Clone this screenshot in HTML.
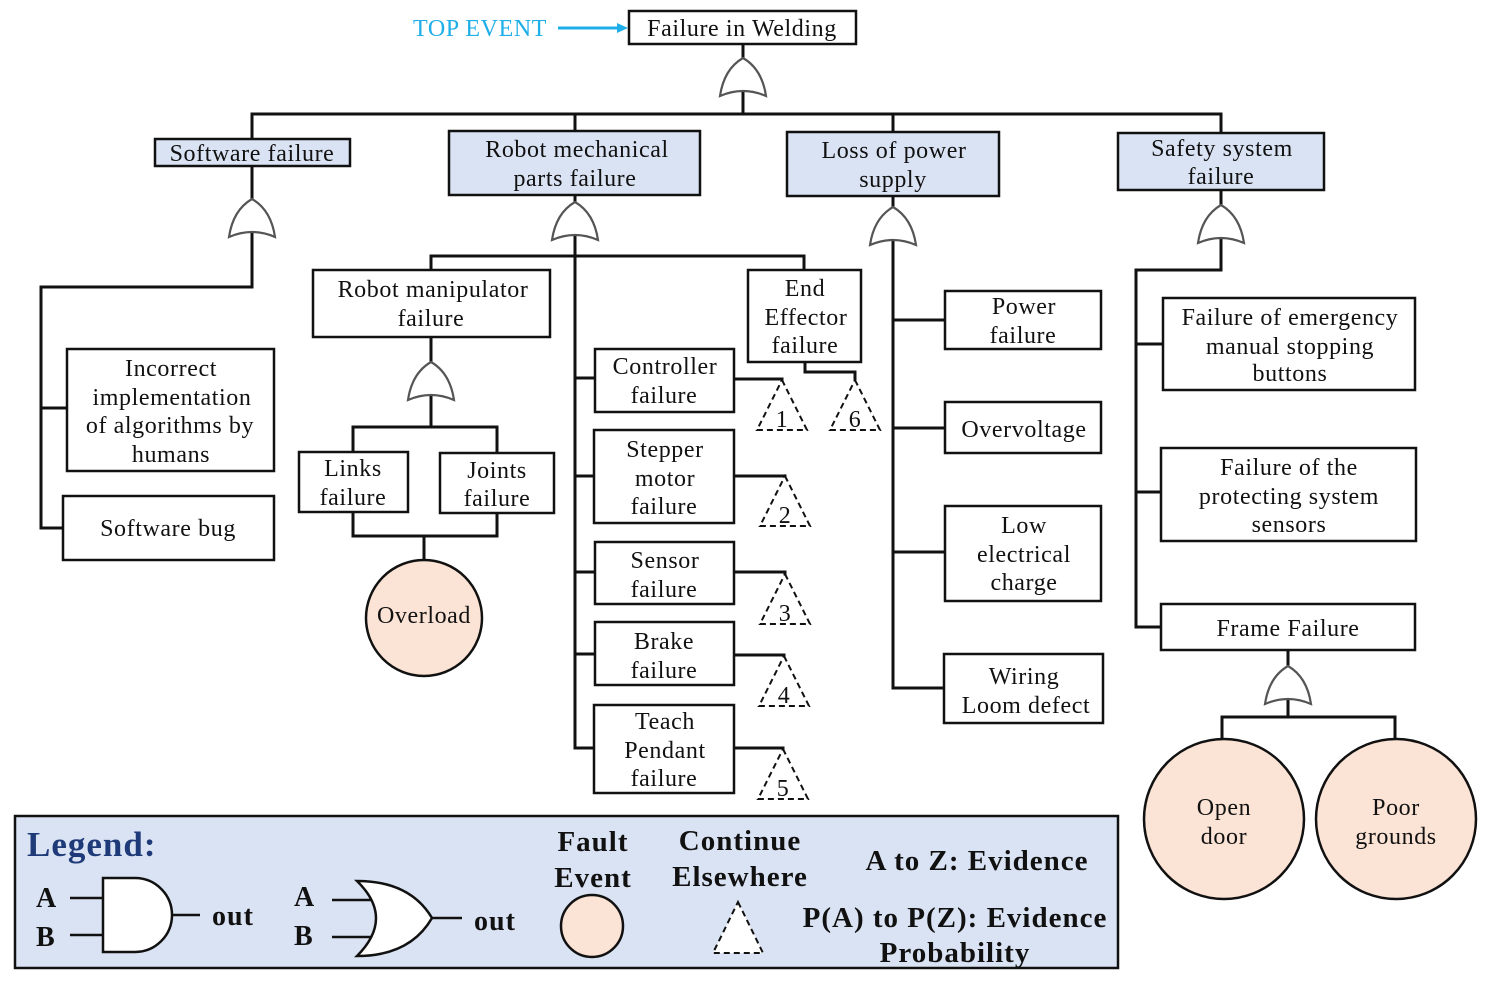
<!DOCTYPE html>
<html><head><meta charset="utf-8"><style>
html,body{margin:0;padding:0;background:#fff}
svg{display:block}
text{font-family:"Liberation Serif",serif;font-size:24px;fill:#111;letter-spacing:0.6px}
.b{font-weight:bold;letter-spacing:1px}
</style></head><body>
<svg width="1490" height="984" viewBox="0 0 1490 984" xmlns="http://www.w3.org/2000/svg">
<defs>
<g id="or"><path d="M-23,19 Q0,9 23,19 Q19,-8 0,-19 Q-19,-8 -23,19 Z" fill="#fff" stroke="#555" stroke-width="2.2"/></g>
<g id="tri"><path d="M0,0 L25,50 L-25,50 Z" fill="#fff" stroke="#111" stroke-width="2" stroke-dasharray="6,4"/></g>
</defs>
<g stroke="#111" stroke-width="3" fill="none">
<line x1="743" y1="44" x2="743" y2="114"/>
<polyline points="252,139 252,114 1221,114 1221,133"/>
<line x1="575" y1="114" x2="575" y2="131"/>
<line x1="893" y1="114" x2="893" y2="132"/>
<polyline points="252,166 252,287 41,287 41,528 63,528"/>
<line x1="41" y1="408" x2="67" y2="408"/>
<polyline points="575,195 575,748 594,748"/>
<polyline points="431,270 431,256 804,256 804,270"/>
<line x1="575" y1="378" x2="595" y2="378"/>
<line x1="575" y1="476" x2="594" y2="476"/>
<line x1="575" y1="572" x2="595" y2="572"/>
<line x1="575" y1="654" x2="595" y2="654"/>
<line x1="431" y1="337" x2="431" y2="427"/>
<polyline points="353,452 353,427 497,427 497,453"/>
<polyline points="353,512 353,536 497,536 497,513"/>
<line x1="424" y1="536" x2="424" y2="560"/>
<polyline points="734,379 782,379 782,382"/>
<polyline points="734,476 785,476 785,478"/>
<polyline points="734,572 785,572 785,575"/>
<polyline points="734,655 784,655 784,657"/>
<polyline points="734,748 783,748 783,750"/>
<polyline points="805,362 805,372 855,372 855,380"/>
<polyline points="893,196 893,688 944,688"/>
<line x1="893" y1="320" x2="945" y2="320"/>
<line x1="893" y1="428" x2="945" y2="428"/>
<line x1="893" y1="552" x2="945" y2="552"/>
<polyline points="1221,190 1221,270 1136,270 1136,627 1161,627"/>
<line x1="1136" y1="344" x2="1163" y2="344"/>
<line x1="1136" y1="492" x2="1161" y2="492"/>
<polyline points="1288,650 1288,717"/>
<polyline points="1222,740 1222,717 1395,717 1395,740"/>
</g>
<use href="#or" x="743" y="77"/>
<use href="#or" x="252" y="218"/>
<use href="#or" x="575" y="221"/>
<use href="#or" x="893" y="226"/>
<use href="#or" x="1221" y="224"/>
<use href="#or" x="431" y="381"/>
<use href="#or" x="1288" y="685"/>
<use href="#tri" x="782" y="380"/><text x="782" y="427" text-anchor="middle" font-size="20">1</text>
<use href="#tri" x="785" y="476"/><text x="785" y="523" text-anchor="middle" font-size="20">2</text>
<use href="#tri" x="785" y="574"/><text x="785" y="621" text-anchor="middle" font-size="20">3</text>
<use href="#tri" x="784" y="656"/><text x="784" y="703" text-anchor="middle" font-size="20">4</text>
<use href="#tri" x="783" y="749"/><text x="783" y="796" text-anchor="middle" font-size="20">5</text>
<use href="#tri" x="855" y="380"/><text x="855" y="427" text-anchor="middle" font-size="20">6</text>
<text x="413" y="36" style="fill:#1eaee8">TOP EVENT</text>
<line x1="558" y1="28" x2="620" y2="28" stroke="#1eaee8" stroke-width="3"/>
<path d="M628,28 L617,23 L617,33 Z" fill="#1eaee8"/>
<g stroke="#111" stroke-width="2.5">
<rect x="629" y="11" width="227" height="33" fill="#fff"/>
<rect x="155" y="139" width="195" height="27" fill="#dae3f3"/>
<rect x="449" y="131" width="251" height="64" fill="#dae3f3"/>
<rect x="787" y="132" width="212" height="64" fill="#dae3f3"/>
<rect x="1118" y="133" width="206" height="57" fill="#dae3f3"/>
<rect x="67" y="349" width="207" height="122" fill="#fff"/>
<rect x="63" y="496" width="211" height="64" fill="#fff"/>
<rect x="313" y="270" width="237" height="67" fill="#fff"/>
<rect x="748" y="270" width="113" height="92" fill="#fff"/>
<rect x="299" y="452" width="109" height="60" fill="#fff"/>
<rect x="440" y="453" width="114" height="60" fill="#fff"/>
<rect x="595" y="349" width="139" height="63" fill="#fff"/>
<rect x="594" y="430" width="140" height="93" fill="#fff"/>
<rect x="595" y="542" width="139" height="62" fill="#fff"/>
<rect x="595" y="622" width="139" height="63" fill="#fff"/>
<rect x="594" y="705" width="140" height="88" fill="#fff"/>
<rect x="945" y="291" width="156" height="58" fill="#fff"/>
<rect x="945" y="402" width="156" height="51" fill="#fff"/>
<rect x="945" y="506" width="156" height="95" fill="#fff"/>
<rect x="944" y="654" width="159" height="69" fill="#fff"/>
<rect x="1163" y="298" width="252" height="92" fill="#fff"/>
<rect x="1161" y="448" width="255" height="93" fill="#fff"/>
<rect x="1161" y="604" width="254" height="46" fill="#fff"/>
<circle cx="424" cy="618" r="58" fill="#fbe3d5"/>
<circle cx="1224" cy="819" r="80" fill="#fbe3d5"/>
<circle cx="1396" cy="819" r="80" fill="#fbe3d5"/>
</g>
<g text-anchor="middle">
<text x="742" y="36">Failure in Welding</text>
<text x="252" y="161">Software failure</text>
<text x="577" y="157">Robot mechanical</text><text x="575" y="186">parts failure</text>
<text x="894" y="158">Loss of power</text><text x="893" y="187">supply</text>
<text x="1222" y="156">Safety system</text><text x="1221" y="184">failure</text>
<text x="171" y="376">Incorrect</text><text x="172" y="405">implementation</text><text x="170" y="433">of algorithms by</text><text x="171" y="462">humans</text>
<text x="168" y="536">Software bug</text>
<text x="433" y="297">Robot manipulator</text><text x="431" y="326">failure</text>
<text x="805" y="296">End</text><text x="806" y="325">Effector</text><text x="805" y="353">failure</text>
<text x="353" y="476">Links</text><text x="353" y="505">failure</text>
<text x="497" y="478">Joints</text><text x="497" y="506">failure</text>
<text x="424" y="623">Overload</text>
<text x="665" y="374">Controller</text><text x="664" y="403">failure</text>
<text x="665" y="457">Stepper</text><text x="665" y="486">motor</text><text x="664" y="514">failure</text>
<text x="665" y="568">Sensor</text><text x="664" y="597">failure</text>
<text x="664" y="649">Brake</text><text x="664" y="678">failure</text>
<text x="665" y="729">Teach</text><text x="665" y="758">Pendant</text><text x="664" y="786">failure</text>
<text x="1024" y="314">Power</text><text x="1023" y="343">failure</text>
<text x="1024" y="437">Overvoltage</text>
<text x="1024" y="533">Low</text><text x="1024" y="562">electrical</text><text x="1024" y="590">charge</text>
<text x="1024" y="684">Wiring</text><text x="1026" y="713">Loom defect</text>
<text x="1290" y="325">Failure of emergency</text><text x="1290" y="354">manual stopping</text><text x="1290" y="381">buttons</text>
<text x="1289" y="475">Failure of the</text><text x="1289" y="504">protecting system</text><text x="1289" y="532">sensors</text>
<text x="1288" y="636">Frame Failure</text>
<text x="1224" y="815">Open</text><text x="1224" y="844">door</text>
<text x="1396" y="815">Poor</text><text x="1396" y="844">grounds</text>
</g>
<rect x="15" y="816" width="1103" height="152" fill="#dae3f3" stroke="#111" stroke-width="2.5"/>
<text x="27" y="856" class="b" style="font-size:35px;fill:#1f3a78">Legend:</text>
<text x="36" y="907" class="b" style="font-size:28px">A</text>
<text x="36" y="946" class="b" style="font-size:28px">B</text>
<text x="212" y="925" class="b" style="font-size:28px">out</text>
<text x="294" y="906" class="b" style="font-size:28px">A</text>
<text x="294" y="945" class="b" style="font-size:28px">B</text>
<text x="474" y="930" class="b" style="font-size:28px">out</text>
<g stroke="#111" stroke-width="2.5" fill="#fff">
<line x1="70" y1="898" x2="103" y2="898"/><line x1="70" y1="935" x2="103" y2="935"/>
<path d="M103,878 L135,878 A37,37 0 0 1 135,952 L103,952 Z"/>
<line x1="172" y1="915" x2="200" y2="915"/>
<line x1="332" y1="900" x2="372" y2="900"/><line x1="332" y1="937" x2="372" y2="937"/>
<path d="M357,881 Q395,918 357,956 Q410,956 432,918 Q410,881 357,881 Z"/>
<line x1="432" y1="918" x2="462" y2="918"/>
<circle cx="592" cy="926" r="31" fill="#fbe3d5"/>
</g>
<path d="M738,902 L763,953 L713,953 Z" fill="#fff" stroke="#111" stroke-width="2" stroke-dasharray="6,4"/>
<g text-anchor="middle">
<text x="593" y="851" class="b" style="font-size:29px">Fault</text>
<text x="593" y="887" class="b" style="font-size:29px">Event</text>
<text x="740" y="850" class="b" style="font-size:29px">Continue</text>
<text x="740" y="886" class="b" style="font-size:29px">Elsewhere</text>
<text x="977" y="870" class="b" style="font-size:29px">A to Z: Evidence</text>
<text x="955" y="927" class="b" style="font-size:29px">P(A) to P(Z): Evidence</text>
<text x="955" y="962" class="b" style="font-size:29px">Probability</text>
</g>
</svg>
</body></html>
